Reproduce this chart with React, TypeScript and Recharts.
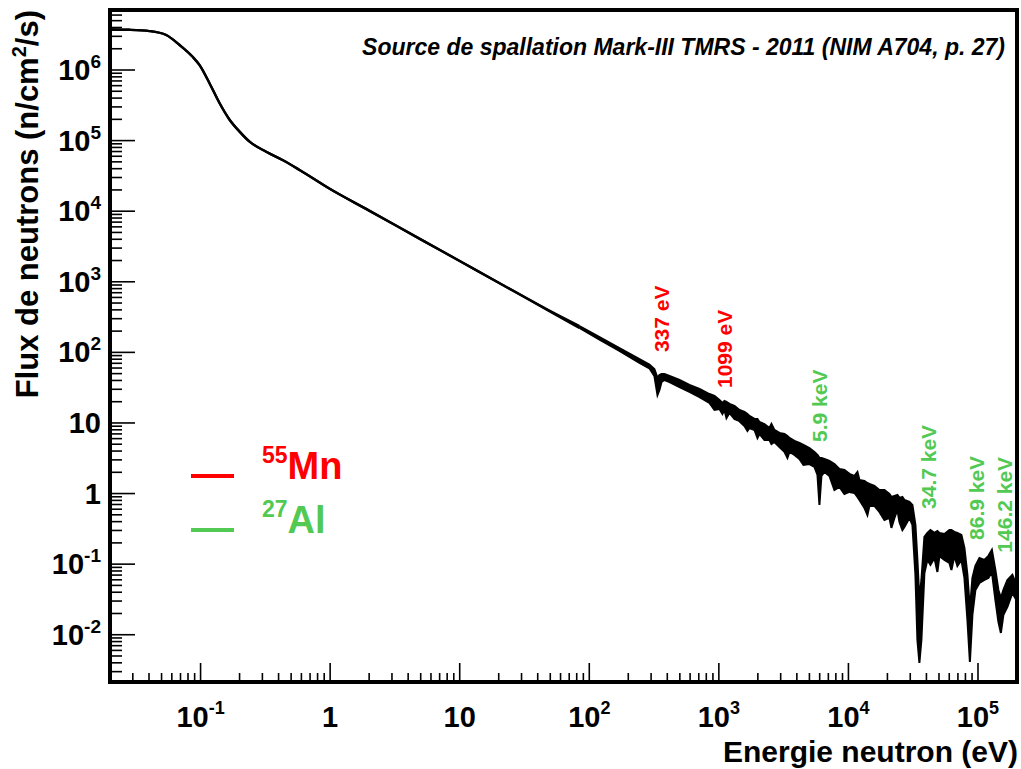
import React from "react";
import { Area, ComposedChart, ReferenceArea, ReferenceDot, XAxis, YAxis } from "recharts";

// Spectre : énergie (eV), bornes basse / haute de la bande bruitée (n/cm²/s)
const energy = [
  0.02, 0.0283, 0.0404, 0.0543, 0.0689, 0.0868, 0.098, 0.117, 0.14, 0.168, 0.2, 0.239, 0.321, 0.429, 0.581, 1, 2, 5, 10,
  20, 50,
  84, 120, 171, 244, 291, 318, 336, 348, 361, 380, 416, 497, 593, 709, 846, 925,
  1011, 1066, 1105, 1145, 1208, 1319, 1443, 1576, 1662, 1722, 1883, 1986, 2057, 2248, 2457, 2546, 2685, 2935, 3208, 3383,
  3505, 3832, 4188, 4496, 5000, 5466, 5768, 5974, 6189, 6531, 7135, 7798, 8521, 9314,
  10180, 11130, 11740, 12160, 13290, 14010, 14520, 15870, 17350, 18960, 20720, 21460, 22650, 23890, 24760, 26100, 27050,
  29570, 31180, 32890, 34070, 35300, 36580, 38590, 40700, 42930, 46100, 48620, 50390, 55050, 60170, 62340, 65770, 69340,
  74470, 78570, 82870, 86600, 90560, 95500,
  102600, 112100, 120300, 128000, 136200, 143700, 150200, 157100, 168600, 184300, 197900,
];
const fluxLow = [
  3.75e6, 3.71e6, 3.56e6, 3.13e6, 2.26e6, 1.54e6, 1.18e6, 6.55e5, 3.41e5, 1.96e5, 1.34e5, 9.65e4, 6.96e4, 5.31e4, 3.84e4,
  2.06e4, 1.02e4, 3990, 1970, 971, 378,
  222, 151, 105, 71, 59.5, 46.4, 24.9, 29.3, 38.0, 40.6, 38.0, 32.3, 27.5, 23.3, 19.2, 15.3,
  15.8, 13.4, 15.3, 11.74, 13.9, 11.4, 10.6, 9.05, 7.7, 8.48, 7.96, 6.13, 6.99, 5.74, 5.74, 5.04, 5.38, 4.57, 3.89, 3.2,
  3.89, 3.53, 3.1, 2.54, 2.62, 2.38, 1.84, 0.69, 1.78, 2.02, 1.78, 1.125, 1.24, 0.988,
  1.054, 1.02, 0.896, 0.812, 0.626, 0.498, 0.668, 0.668, 0.549, 0.423, 0.452, 0.326, 0.452, 0.586, 0.396, 0.305, 0.337,
  0.452, 0.359, 0.0704, 0.00845, 0.00399, 0.00845, 0.0751, 0.115, 0.0977, 0.1225, 0.0776, 0.131, 0.115, 0.104, 0.0828,
  0.131, 0.0946, 0.115, 0.0638, 0.0162, 0.00412, 0.0191, 0.0431,
  0.0541, 0.0597, 0.0638, 0.0776, 0.0311, 0.0152, 0.0106, 0.0191, 0.0248, 0.0391, 0.0311,
];
const fluxHigh = [
  3.75e6, 3.71e6, 3.56e6, 3.13e6, 2.26e6, 1.54e6, 1.18e6, 6.55e5, 3.41e5, 1.96e5, 1.34e5, 9.65e4, 6.96e4, 5.31e4, 3.84e4,
  2.06e4, 1.02e4, 3990, 1970, 971, 385,
  236, 164, 115, 80, 67, 58.2, 43.5, 47.9, 49.5, 49.5, 46.4, 40.6, 34.5, 30.3, 25.7, 24.1,
  21.2, 19.2, 20.5, 19.9, 18.6, 17.4, 15.3, 14.3, 13.4, 12.6, 11.4, 11.4, 10.3, 9.66, 8.48, 9.66, 7.96, 7.22, 6.99, 6.55,
  6.13, 5.56, 5.21, 4.88, 4.42, 3.89, 3.53, 3.2, 3.2, 3.1, 2.89, 2.62, 2.23, 2.16,
  1.9, 1.78, 2.02, 1.56, 1.51, 1.41, 1.37, 1.28, 1.125, 1.125, 0.988, 0.896, 0.925, 0.956, 0.867, 0.896, 0.812, 0.761,
  0.69, 0.359, 0.115, 0.0311, 0.0597, 0.243, 0.277, 0.305, 0.277, 0.295, 0.277, 0.268, 0.305, 0.305, 0.286, 0.277, 0.259,
  0.17, 0.0704, 0.0225, 0.0638, 0.0946,
  0.1225, 0.115, 0.131, 0.159, 0.0828, 0.0431, 0.0332, 0.0431, 0.0597, 0.0704, 0.0507,
];
// au-delà de cette énergie la courbe devient bruitée (tracé segmenté)
const noisyFrom = 84;

const xDomain = [0.02, 2e5];
const yDomain = [0.00214, 7.08e6];

const xMajorTicks = [0.1, 1, 10, 100, 1000, 10000, 100000];
const xTickBase = ["10", "1", "10", "10", "10", "10", "10"];
const xTickExp = ["-1", "", "", "2", "3", "4", "5"];

const yMajorTicks = [0.01, 0.1, 1, 10, 100, 1000, 1e4, 1e5, 1e6];
const yTickBase = ["10", "10", "1", "10", "10", "10", "10", "10", "10"];
const yTickExp = ["-2", "-1", "", "", "2", "3", "4", "5", "6"];

// raies de résonance : texte, élément, position (énergie, flux) du début du texte
const lineLabels = ["337 eV", "1099 eV", "5.9 keV", "34.7 keV", "86.9 keV", "146.2 keV"];
const lineElement = ["Mn", "Mn", "Al", "Al", "Al", "Al"];
const lineLabelEnergy = [414, 1274, 6887, 47500, 112000, 184300];
const lineLabelFlux = [101, 31.3, 5.38, 0.605, 0.22, 0.1455];

const legendMass = ["55", "27"];
const legendElement = ["Mn", "Al"];

const RED = "#ff0000";
const GREEN = "#52c952";
const FONT = "'Liberation Sans', Arial, Helvetica, sans-serif";

const rows = energy.map((e, i) => {
  const band = [fluxLow[i], fluxHigh[i]];
  return {
    energy: e,
    smooth: e <= noisyFrom ? band : null,
    noisy: e >= noisyFrom ? band : null,
  };
});

function logTicks(min: number, max: number) {
  const out: number[] = [];
  for (let k = -3; k <= 6; k++) {
    for (let m = 1; m <= 9; m++) {
      const v = m === 1 ? Math.pow(10, k) : Number((m * Math.pow(10, k)).toPrecision(3));
      if (v > min * 1.01 && v < max * 0.99) out.push(v);
    }
  }
  return out;
}

const xTicks = logTicks(xDomain[0], xDomain[1]).map((v) => xMajorTicks.find((t) => Math.abs(t / v - 1) < 1e-9) ?? v);
const yTicks = logTicks(yDomain[0], yDomain[1]).map((v) => yMajorTicks.find((t) => Math.abs(t / v - 1) < 1e-9) ?? v);

function XTick({ x, y, payload }: any) {
  const i = xMajorTicks.indexOf(payload.value);
  const major = i >= 0;
  return (
    <g>
      <line x1={x} x2={x} y1={y} y2={y - (major ? 19 : 9)} stroke="#000" strokeWidth={1.6} />
      {major && (
        <text x={x} y={y + 45} textAnchor="middle" fontSize={29} fontWeight="bold" fontFamily={FONT} fill="#000">
          {xTickBase[i]}
          {xTickExp[i] && (
            <tspan dy={-13} fontSize={18}>
              {xTickExp[i]}
            </tspan>
          )}
        </text>
      )}
    </g>
  );
}

function YTick({ x, y, payload }: any) {
  const i = yMajorTicks.indexOf(payload.value);
  const major = i >= 0;
  return (
    <g>
      <line x1={x} x2={x + (major ? 25 : 12)} y1={y} y2={y} stroke="#000" strokeWidth={1.6} />
      {major && (
        <text x={x - 9} y={y + 10} textAnchor="end" fontSize={29} fontWeight="bold" fontFamily={FONT} fill="#000">
          {yTickBase[i]}
          {yTickExp[i] && (
            <tspan dy={-12} fontSize={19}>
              {yTickExp[i]}
            </tspan>
          )}
        </text>
      )}
    </g>
  );
}

export default function App() {
  return (
    <div style={{ position: "relative", width: 1021, height: 769, background: "#fff" }}>
      <style>{`body{margin:0}`}</style>
      <ComposedChart width={1021} height={769} data={rows} margin={{ top: 10, right: 4, left: 0, bottom: 0 }}>
        <XAxis
          dataKey="energy"
          type="number"
          scale="log"
          domain={xDomain}
          allowDataOverflow
          ticks={xTicks}
          interval={0}
          tick={XTick}
          tickSize={0}
          tickMargin={0}
          tickLine={false}
          axisLine={false}
          height={87}
        />
        <YAxis
          type="number"
          scale="log"
          domain={yDomain}
          allowDataOverflow
          ticks={yTicks}
          interval={0}
          tick={YTick}
          tickSize={0}
          tickMargin={0}
          tickLine={false}
          axisLine={false}
          width={110}
        />
        <Area
          dataKey="smooth"
          type="monotoneX"
          stroke="#000"
          strokeWidth={2.4}
          fill="#000"
          fillOpacity={1}
          dot={false}
          activeDot={false}
          isAnimationActive={false}
        />
        <Area
          dataKey="noisy"
          type="linear"
          stroke="#000"
          strokeWidth={2}
          fill="#000"
          fillOpacity={1}
          dot={false}
          activeDot={false}
          isAnimationActive={false}
        />
        <ReferenceArea
          x1={xDomain[0]}
          x2={xDomain[1]}
          y1={yDomain[0]}
          y2={yDomain[1]}
          fill="none"
          stroke="#000"
          strokeWidth={4}
          ifOverflow="visible"
        />
        {lineLabels.map((txt, i) => (
          <ReferenceDot
            key={txt}
            x={lineLabelEnergy[i]}
            y={lineLabelFlux[i]}
            r={0}
            ifOverflow="visible"
            shape={(p: any) => (
              <text
                x={p.cx}
                y={p.cy}
                transform={`rotate(-90 ${p.cx} ${p.cy})`}
                fontSize={21}
                fontWeight="bold"
                fontFamily={FONT}
                fill={lineElement[i] === "Mn" ? RED : GREEN}
              >
                {txt}
              </text>
            )}
          />
        ))}
      </ComposedChart>
      <svg width={1021} height={769} style={{ position: "absolute", left: 0, top: 0, pointerEvents: "none" }}>
        <text
          x={1005}
          y={55}
          textAnchor="end"
          fontSize={23}
          fontWeight="bold"
          fontStyle="italic"
          fontFamily={FONT}
          fill="#000"
        >
          Source de spallation Mark-III TMRS - 2011 (NIM A704, p. 27)
        </text>
        <text x={1018} y={762} textAnchor="end" fontSize={30} fontWeight="bold" fontFamily={FONT} fill="#000">
          Energie neutron (eV)
        </text>
        <text
          transform="rotate(-90)"
          x={-10}
          y={38}
          textAnchor="end"
          fontSize={31}
          fontWeight="bold"
          fontFamily={FONT}
          fill="#000"
        >
          Flux de neutrons (n/cm
          <tspan dy={-12} fontSize={20}>
            2
          </tspan>
          <tspan dy={12}>/s)</tspan>
        </text>
        {legendElement.map((el, i) => {
          const color = i === 0 ? RED : GREEN;
          const yBase = i === 0 ? 479 : 533;
          return (
            <g key={el}>
              <line x1={191} x2={234} y1={yBase - 3} y2={yBase - 3} stroke={color} strokeWidth={4} />
              <text x={262} y={yBase} fontSize={38} fontWeight="bold" fontFamily={FONT} fill={color}>
                <tspan dy={-16} fontSize={23}>
                  {legendMass[i]}
                </tspan>
                <tspan dy={16}>{el}</tspan>
              </text>
            </g>
          );
        })}
      </svg>
    </div>
  );
}
